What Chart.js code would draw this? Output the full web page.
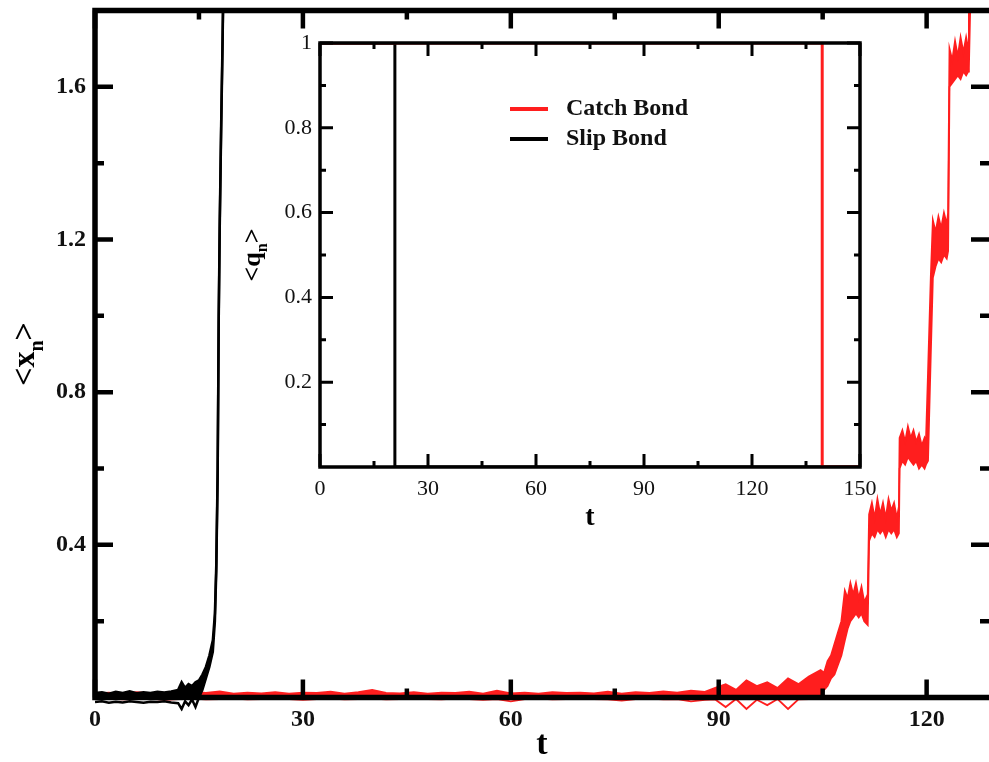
<!DOCTYPE html>
<html lang="en">
<head>
<meta charset="UTF-8">
<title>Catch Bond vs Slip Bond</title>
<script src="https://cdn.jsdelivr.net/npm/chart.js"></script>
<style>
    html, body { margin: 0; padding: 0; background: #fff; overflow: hidden; }
    #wrap { position: relative; width: 989px; height: 762px; }
    #mainChart { position: absolute; left: 0; top: 0; }
    #insetChart { position: absolute; left: 230px; top: 30px; }
</style>
</head>
<body>
<div id="wrap">
    <canvas id="mainChart" width="989" height="762"></canvas>
    <canvas id="insetChart" width="650" height="510"></canvas>
</div>
<script>
// main panel: <x_n> vs t, noisy curves kept as upper / lower edge of the band
const catchT = [0, 2, 4, 6, 8, 10, 12, 14, 16, 18, 20, 22, 24, 26, 28, 30, 32, 34, 36, 38,
    40, 42, 44, 46, 48, 50, 52, 54, 56, 58, 60, 62, 64, 66, 68, 70, 72, 74, 76, 78,
    80, 82, 84, 86, 88,
    89.5, 91, 92.5, 94, 95.5, 97, 98.5, 100, 101.5, 103,
    104.7, 105.2, 105.7, 106.2, 106.7, 107.2, 107.7, 108.2, 108.6, 109, 109.4, 109.8, 110.2, 110.6, 111, 111.5,
    111.7, 112.1, 112.5, 112.9, 113.3, 113.7, 114.1, 114.5, 114.9, 115.3, 115.7, 116,
    116.1, 116.5, 116.9, 117.3, 117.7, 118.1, 118.5, 118.9, 119.3, 119.7, 119.9,
    120.2, 120.6, 120.9, 121.3, 121.7, 122.1, 122.5, 122.9, 123.1,
    123.3, 123.7, 124.1, 124.5, 124.9, 125.3, 125.7, 126, 126.1, 126.4];
const catchHi = [0.010, 0.013, 0.009, 0.014, 0.011, 0.012, 0.010, 0.015, 0.012, 0.016, 0.010, 0.013, 0.011, 0.014, 0.010, 0.013, 0.012, 0.015, 0.010, 0.014,
    0.020, 0.012, 0.011, 0.014, 0.010, 0.013, 0.012, 0.015, 0.010, 0.018, 0.011, 0.013, 0.010, 0.014, 0.012, 0.013, 0.011, 0.015, 0.010, 0.014,
    0.012, 0.016, 0.013, 0.018, 0.015,
    0.025, 0.035, 0.020, 0.045, 0.030, 0.040, 0.025, 0.050, 0.035, 0.055,
    0.072, 0.065, 0.095, 0.110, 0.140, 0.170, 0.200, 0.280, 0.260, 0.300, 0.270, 0.300, 0.260, 0.290, 0.250, 0.270,
    0.480, 0.510, 0.470, 0.520, 0.480, 0.510, 0.470, 0.520, 0.490, 0.510, 0.470, 0.500,
    0.680, 0.700, 0.670, 0.710, 0.680, 0.700, 0.670, 0.690, 0.660, 0.680, 0.670,
    0.850, 1.100, 1.250, 1.220, 1.260, 1.230, 1.270, 1.240, 1.270,
    1.700, 1.670, 1.720, 1.680, 1.730, 1.690, 1.730, 1.700, 1.900, 1.900];
const catchLo = [-0.004, -0.003, -0.005, -0.004, -0.003, -0.006, -0.004, -0.003, -0.005, -0.004, -0.003, -0.005, -0.004, -0.003, -0.004, -0.006, -0.004, -0.003, -0.005, -0.004,
    -0.003, -0.005, -0.004, -0.003, -0.004, -0.005, -0.003, -0.004, -0.006, -0.004, -0.010, -0.004, -0.003, -0.005, -0.004, -0.003, -0.004, -0.005, -0.008, -0.004,
    -0.003, -0.005, -0.004, -0.010, -0.006,
    -0.005, -0.025, -0.004, -0.030, -0.006, -0.020, -0.004, -0.030, -0.005, -0.004,
    0.000, 0.020, 0.030, 0.050, 0.060, 0.085, 0.110, 0.150, 0.180, 0.200, 0.210, 0.220, 0.210, 0.220, 0.200, 0.190,
    0.410, 0.430, 0.420, 0.440, 0.430, 0.440, 0.420, 0.440, 0.430, 0.440, 0.420, 0.430,
    0.600, 0.620, 0.610, 0.630, 0.620, 0.610, 0.620, 0.600, 0.610, 0.600, 0.610,
    0.620, 0.900, 1.100, 1.130, 1.150, 1.140, 1.160, 1.150, 1.170,
    1.600, 1.610, 1.620, 1.630, 1.620, 1.640, 1.630, 1.640, 1.650, 1.900];

const slipT = [0, 1, 2, 3, 4, 5, 6, 7, 8, 9, 10, 11, 12, 12.5, 13, 13.5, 14, 14.5, 15, 15.5,
    16, 16.5, 17, 17.3, 17.5, 17.7, 17.85, 18, 18.2, 18.4, 18.55];
const slipHi = [0.012, 0.014, 0.010, 0.015, 0.012, 0.016, 0.011, 0.014, 0.012, 0.015, 0.013, 0.016, 0.020, 0.040, 0.025, 0.035, 0.030, 0.040, 0.045, 0.060,
    0.080, 0.110, 0.150, 0.220, 0.350, 0.600, 1.000, 1.250, 1.500, 1.720, 1.900];
const slipLo = [-0.012, -0.010, -0.014, -0.011, -0.013, -0.010, -0.012, -0.014, -0.011, -0.012, -0.010, -0.013, -0.015, -0.030, -0.010, -0.020, -0.005, -0.025, 0.000, 0.020,
    0.050, 0.080, 0.120, 0.200, 0.330, 0.580, 0.980, 1.230, 1.480, 1.700, 1.900];

const mainXTicks = [0, 30, 60, 90, 120];
const mainXMinor = [15, 45, 75, 105];
const mainYTicks = [0.4, 0.8, 1.2, 1.6];
const mainYMinor = [0.2, 0.6, 1.0, 1.4];

// inset: <q_n> vs t
const insetCatchT = [0, 139.5, 139.5, 150];
const insetCatchQ = [1, 1, 0, 0];
const insetSlipT = [0, 20.8, 20.8, 150];
const insetSlipQ = [1, 1, 0, 0];

const insetXTicks = [0, 30, 60, 90, 120, 150];
const insetXMinor = [15, 45, 75, 105, 135];
const insetYTicks = [0.2, 0.4, 0.6, 0.8, 1];
const insetYMinor = [0.1, 0.3, 0.5, 0.7, 0.9];

const RED = 'rgb(255, 30, 30)';
const SERIF = '"Liberation Serif", "DejaVu Serif", serif';

function pts(xs, ys) {
    return xs.map((v, i) => ({ x: v, y: ys[i] }));
}

// axes box with inward ticks + titles, drawn on top of the data
function framePlugin(o) {
    return {
        id: 'frame',
        afterDatasetsDraw(chart) {
            const ctx = chart.ctx;
            const a = chart.chartArea;
            const sx = chart.scales.x, sy = chart.scales.y;
            ctx.save();
            ctx.strokeStyle = '#000';
            ctx.lineCap = 'butt';

            ctx.lineWidth = o.tickWidth;
            const xTicks = (vals, len) => vals.forEach(v => {
                const px = sx.getPixelForValue(v);
                ctx.beginPath();
                ctx.moveTo(px, a.bottom); ctx.lineTo(px, a.bottom - len);
                ctx.moveTo(px, a.top); ctx.lineTo(px, a.top + len);
                ctx.stroke();
            });
            const yTicks = (vals, len) => vals.forEach(v => {
                const py = sy.getPixelForValue(v);
                ctx.beginPath();
                ctx.moveTo(a.left, py); ctx.lineTo(a.left + len, py);
                ctx.moveTo(a.right, py); ctx.lineTo(a.right - len, py);
                ctx.stroke();
            });
            xTicks(o.xMajor, o.majorLen);
            xTicks(o.xMinor, o.minorLen);
            yTicks(o.yMajor, o.majorLen);
            yTicks(o.yMinor, o.minorLen);

            ctx.lineWidth = o.lineWidth;
            ctx.lineCap = 'square';
            const r = o.drawRight ? a.right : chart.width + 10;
            ctx.beginPath();
            ctx.moveTo(a.left, a.bottom); ctx.lineTo(a.left, a.top);
            ctx.moveTo(a.left, a.top); ctx.lineTo(r, a.top);
            ctx.moveTo(a.left, a.bottom); ctx.lineTo(r, a.bottom);
            if (o.drawRight) { ctx.moveTo(a.right, a.top); ctx.lineTo(a.right, a.bottom); }
            ctx.stroke();

            // x title
            ctx.fillStyle = '#000';
            ctx.font = 'bold ' + o.xTitleSize + 'px ' + SERIF;
            ctx.textAlign = 'center';
            ctx.textBaseline = 'middle';
            ctx.fillText('t', (a.left + a.right) / 2, o.xTitleY);

            // y title with subscript, rotated
            const fs = o.yTitleSize, sub = Math.round(fs * 0.62);
            ctx.translate(o.yTitleX, (a.top + a.bottom) / 2);
            ctx.rotate(-Math.PI / 2);
            ctx.font = 'bold ' + fs + 'px ' + SERIF;
            const w1 = ctx.measureText('<' + o.yVar).width;
            const w3 = ctx.measureText('>').width;
            ctx.font = 'bold ' + sub + 'px ' + SERIF;
            const w2 = ctx.measureText('n').width;
            const x0 = -(w1 + w2 + w3) / 2;
            ctx.textAlign = 'left';
            ctx.textBaseline = 'alphabetic';
            ctx.font = 'bold ' + fs + 'px ' + SERIF;
            ctx.fillText('<' + o.yVar, x0, fs * 0.3);
            ctx.font = 'bold ' + sub + 'px ' + SERIF;
            ctx.fillText('n', x0 + w1, fs * 0.3 + fs * 0.28);
            ctx.font = 'bold ' + fs + 'px ' + SERIF;
            ctx.fillText('>', x0 + w1 + w2, fs * 0.3);
            ctx.restore();
        }
    };
}

function fixedTicks(vals) {
    return function (scale) { scale.ticks = vals.map(v => ({ value: v })); };
}

const noClipBottom = { left: 0, top: 0, right: 0, bottom: 14 };

new Chart(document.getElementById('mainChart'), {
    type: 'line',
    data: {
        datasets: [{
            label: 'Slip Bond',
            data: pts(slipT, slipHi),
            borderColor: '#000', backgroundColor: '#000',
            borderWidth: 2.5, pointRadius: 0, fill: '+1', order: 0, clip: noClipBottom
        }, {
            label: 'Slip Bond lo',
            data: pts(slipT, slipLo),
            borderColor: '#000',
            borderWidth: 2.5, pointRadius: 0, fill: false, order: 0, clip: noClipBottom
        }, {
            label: 'Catch Bond',
            data: pts(catchT, catchHi),
            borderColor: RED, backgroundColor: RED,
            borderWidth: 1.8, pointRadius: 0, fill: '+1', order: 1, clip: noClipBottom
        }, {
            label: 'Catch Bond lo',
            data: pts(catchT, catchLo),
            borderColor: RED,
            borderWidth: 1.8, pointRadius: 0, fill: false, order: 1, clip: noClipBottom
        }]
    },
    options: {
        responsive: false,
        animation: false,
        layout: { padding: { top: 10.5, left: 0, right: 0, bottom: 0 } },
        plugins: { legend: { display: false }, tooltip: { enabled: false } },
        scales: {
            x: {
                type: 'linear', min: 0, max: 129,
                afterBuildTicks: fixedTicks(mainXTicks),
                afterFit(s) { s.height = 64.5; s.paddingLeft = 0; s.paddingRight = 0; },
                grid: { display: false, drawTicks: false },
                border: { display: false },
                ticks: { color: '#111', padding: 8, maxRotation: 0, font: { family: SERIF, size: 24, weight: 'bold' } }
            },
            y: {
                type: 'linear', min: 0, max: 1.8,
                afterBuildTicks: fixedTicks(mainYTicks),
                afterFit(s) { s.width = 95; s.paddingTop = 0; s.paddingBottom = 0; },
                grid: { display: false, drawTicks: false },
                border: { display: false },
                ticks: { color: '#111', padding: 9, font: { family: SERIF, size: 24, weight: 'bold' },
                    callback: v => v.toFixed(1) }
            }
        }
    },
    plugins: [framePlugin({
        xMajor: mainXTicks, xMinor: mainXMinor, yMajor: mainYTicks, yMinor: mainYMinor,
        majorLen: 18, minorLen: 9, tickWidth: 4.5, lineWidth: 5.5, drawRight: false,
        xTitleSize: 34, xTitleY: 745, yTitleSize: 32, yTitleX: 24, yVar: 'x'
    })]
});

const insetSeries = [
    { label: 'Catch Bond', xs: insetCatchT, ys: insetCatchQ, color: RED },
    { label: 'Slip Bond', xs: insetSlipT, ys: insetSlipQ, color: '#000' }
];

const insetLegend = {
    id: 'insetLegend',
    afterDraw(chart) {
        const ctx = chart.ctx, a = chart.chartArea;
        ctx.save();
        ctx.font = 'bold 24px ' + SERIF;
        ctx.textBaseline = 'middle';
        ctx.textAlign = 'left';
        insetSeries.forEach((s, i) => {
            const y = a.top + 66 + i * 30;
            ctx.strokeStyle = s.color;
            ctx.lineWidth = 4;
            ctx.beginPath();
            ctx.moveTo(a.left + 190, y);
            ctx.lineTo(a.left + 228, y);
            ctx.stroke();
            ctx.fillStyle = '#111';
            ctx.fillText(s.label, a.left + 246, y);
        });
        ctx.restore();
    }
};

new Chart(document.getElementById('insetChart'), {
    type: 'line',
    data: {
        datasets: insetSeries.map(s => ({
            label: s.label,
            data: pts(s.xs, s.ys),
            borderColor: s.color,
            borderWidth: 3,
            pointRadius: 0
        }))
    },
    options: {
        responsive: false,
        animation: false,
        layout: { padding: { top: 13, left: 0, right: 20, bottom: 0 } },
        plugins: { legend: { display: false }, tooltip: { enabled: false } },
        scales: {
            x: {
                type: 'linear', min: 0, max: 150,
                afterBuildTicks: fixedTicks(insetXTicks),
                afterFit(s) { s.height = 73; s.paddingLeft = 0; s.paddingRight = 0; },
                grid: { display: false, drawTicks: false },
                border: { display: false },
                ticks: { color: '#111', padding: 9, maxRotation: 0, font: { family: SERIF, size: 22 } }
            },
            y: {
                type: 'linear', min: 0, max: 1,
                afterBuildTicks: fixedTicks(insetYTicks),
                afterFit(s) { s.width = 90; s.paddingTop = 0; s.paddingBottom = 0; },
                grid: { display: false, drawTicks: false },
                border: { display: false },
                ticks: { color: '#111', padding: 8, font: { family: SERIF, size: 22 },
                    callback: v => (v === 1 ? '1' : v.toFixed(1)) }
            }
        }
    },
    plugins: [framePlugin({
        xMajor: insetXTicks, xMinor: insetXMinor, yMajor: insetYTicks, yMinor: insetYMinor,
        majorLen: 13, minorLen: 6, tickWidth: 3, lineWidth: 3.5, drawRight: true,
        xTitleSize: 28, xTitleY: 488, yTitleSize: 26, yTitleX: 22, yVar: 'q'
    }), insetLegend]
});
</script>
</body>
</html>
